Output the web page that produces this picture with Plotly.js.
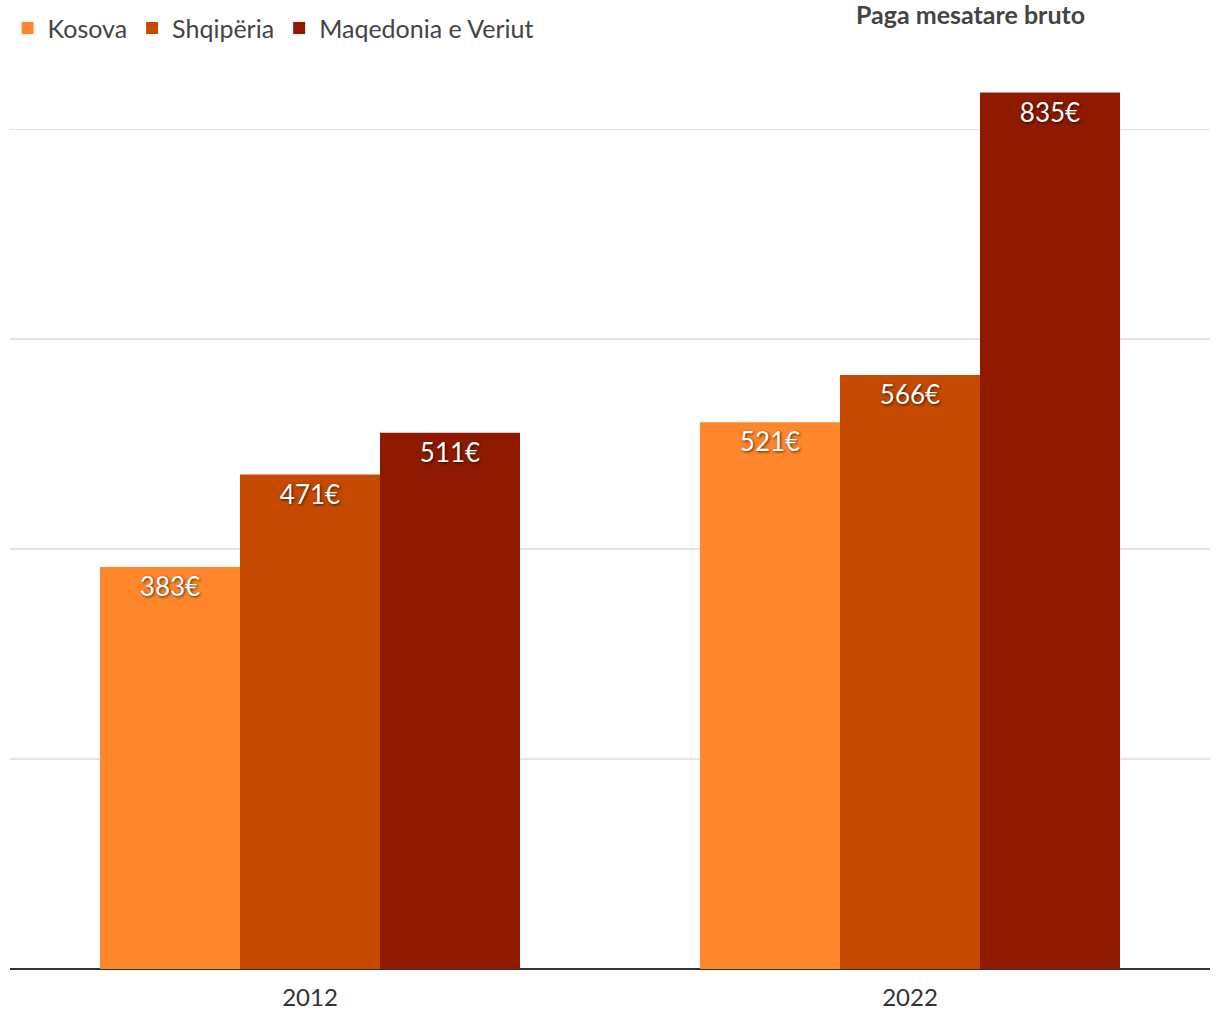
<!DOCTYPE html>
<html>
<head>
<meta charset="utf-8">
<script src="https://cdn.plot.ly/plotly-3.0.1.min.js"></script>
<style>html,body{margin:0;padding:0;background:#fff;}#chart{width:1220px;height:1020px;}</style>
</head>
<body>
<div id="chart"></div>
<script>
const years = ['2012', '2022'];
const seriesNames = ['Kosova', 'Shqipëria', 'Maqedonia e Veriut'];
const kosova = [383, 521];
const shqiperia = [471, 566];
const maqedonia = [511, 835];
const colors = ['#FF862B', '#C54A00', '#8F1A00'];
const title = 'Paga mesatare bruto';

const values = [kosova, shqiperia, maqedonia];
const FONT = 'Lato, "Open Sans", sans-serif';

const traces = values.map((v, i) => ({
  type: 'bar',
  name: seriesNames[i],
  x: years,
  y: v,
  marker: {color: colors[i], line: {width: 0}},
  text: v.map(n => n + '€'),
  textposition: 'inside',
  insidetextanchor: 'end',
  textangle: 0,
  textfont: {family: FONT, size: 26, color: '#ffffff', shadow: '1px 1px 3px rgba(0,0,0,0.7)'},
  constraintext: 'none',
  hoverinfo: 'skip'
}));

const layout = {
  width: 1220,
  height: 1020,
  margin: {l: 10, r: 10, t: 60, b: 51, pad: 0, autoexpand: false},
  paper_bgcolor: '#ffffff',
  plot_bgcolor: '#ffffff',
  barmode: 'group',
  bargap: 0.3,
  bargroupgap: 0,
  showlegend: true,
  legend: {
    orientation: 'h', x: -0.002, xanchor: 'left', y: 1.035, yanchor: 'middle',
    font: {family: FONT, size: 25, color: '#444444'},
    itemwidth: 30, tracegroupgap: 0, bgcolor: 'rgba(0,0,0,0)'
  },
  xaxis: {
    type: 'category',
    tickfont: {family: FONT, size: 24, color: '#333333'},
    showgrid: false, showline: false, ticks: '', ticklen: 0,
    ticklabelstandoff: 12,
    fixedrange: true
  },
  yaxis: {
    range: [0, 866],
    dtick: 200,
    showticklabels: false,
    showgrid: true, gridcolor: '#e4e4e4', gridwidth: 1.5,
    zeroline: true, zerolinecolor: '#333333', zerolinewidth: 2,
    showline: false, ticks: '', fixedrange: true
  },
  annotations: [{
    text: '<b>' + title + '</b>',
    xref: 'paper', yref: 'paper',
    x: 0.8, y: 1.0506, xanchor: 'center', yanchor: 'middle',
    showarrow: false,
    font: {family: FONT, size: 25, color: '#444444'}
  }]
};

Plotly.newPlot('chart', traces, layout, {displayModeBar: false, staticPlot: true});
</script>
</body>
</html>
